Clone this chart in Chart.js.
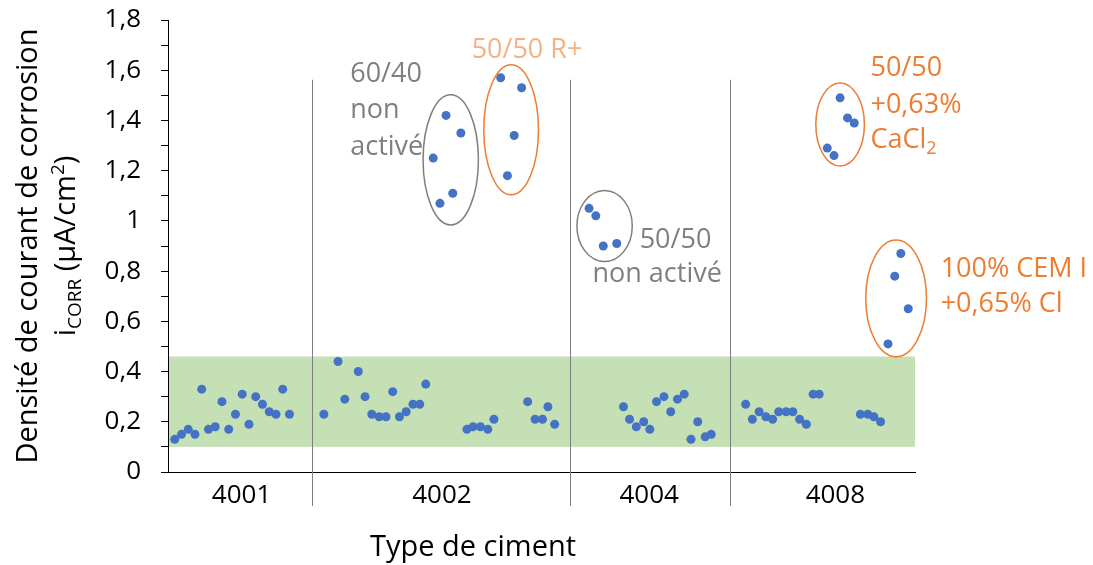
<!DOCTYPE html>
<html>
<head>
<meta charset="utf-8">
<script src="https://cdn.jsdelivr.net/npm/chart.js@4.4.1/dist/chart.umd.min.js"></script>
<style>
  html, body { margin: 0; padding: 0; background: #fff; }
  #wrap { width: 1093px; height: 565px; }
</style>
</head>
<body>
<div id="wrap"><canvas id="chart"></canvas></div>
<script>
// cement types, label centres and group limits along the sample axis
const cements = ['4001', '4002', '4004', '4008'];
const cementCentres = [10.9, 40.6, 71.3, 98.9];
const cementBounds = [21.3, 59.5, 83.3];

// sample position and icorr (µA/cm²) per cement
const pos4001 = [1, 2, 3, 4, 5, 6, 7, 8, 9, 10, 11, 12, 13, 14, 15, 16, 17, 18];
const icorr4001 = [0.13, 0.15, 0.17, 0.15, 0.33, 0.17, 0.18, 0.28, 0.17, 0.23, 0.31, 0.19, 0.30, 0.27, 0.24, 0.23, 0.33, 0.23];

const pos4002 = [23.1, 25.2, 26.2, 28.2, 29.2, 30.2, 31.3, 32.3, 33.3, 34.3, 35.3, 36.3, 37.3, 38.2, 39.3, 40.3, 41.2, 42.2, 43.4,
  44.3, 45.2, 46.3, 47.4, 48.3, 49.3, 50.3, 51.3, 52.4, 53.3, 54.4, 55.5, 56.3, 57.3];
const icorr4002 = [0.23, 0.44, 0.29, 0.40, 0.30, 0.23, 0.22, 0.22, 0.32, 0.22, 0.24, 0.27, 0.27, 0.35, 1.25, 1.07, 1.42, 1.11, 1.35,
  0.17, 0.18, 0.18, 0.17, 0.21, 1.57, 1.18, 1.34, 1.53, 0.28, 0.21, 0.21, 0.26, 0.19];

const pos4004 = [62.4, 63.4, 64.5, 66.5, 67.5, 68.4, 69.4, 70.5, 71.4, 72.4, 73.5, 74.5, 75.5, 76.5, 77.5, 78.5, 79.6, 80.5];
const icorr4004 = [1.05, 1.02, 0.90, 0.91, 0.26, 0.21, 0.18, 0.20, 0.17, 0.28, 0.30, 0.24, 0.29, 0.31, 0.13, 0.20, 0.14, 0.15];

const pos4008 = [85.6, 86.6, 87.6, 88.6, 89.6, 90.5, 91.6, 92.6, 93.6, 94.6, 95.6, 96.5, 97.7, 98.7, 99.6, 100.7, 101.7,
  102.6, 103.7, 104.6, 105.6, 106.7, 107.7, 108.6, 109.7];
const icorr4008 = [0.27, 0.21, 0.24, 0.22, 0.21, 0.24, 0.24, 0.24, 0.21, 0.19, 0.31, 0.31, 1.29, 1.26, 1.49, 1.41, 1.39,
  0.23, 0.23, 0.22, 0.20, 0.51, 0.78, 0.87, 0.65];

// passive zone (green band)
const passiveBand = [0.1, 0.46];

// rings round the special mixes, in axis units
const rings = [
  { x: [37.8, 46.0], y: [0.984, 1.502], color: '#7F7F7F' },
  { x: [46.8, 54.9], y: [1.104, 1.622], color: '#ED7D31' },
  { x: [60.6, 68.8], y: [0.838, 1.121], color: '#7F7F7F' },
  { x: [96.0, 103.2], y: [1.219, 1.549], color: '#ED7D31' },
  { x: [103.4, 112.4], y: [0.459, 0.924], color: '#ED7D31' }
];

// notes next to the rings
const notes = [
  { x: 27.0, y: [1.555, 1.409, 1.263], color: '#7F7F7F', lines: [[{ t: '60/40' }], [{ t: 'non' }], [{ t: 'activé' }]] },
  { x: 45.0, y: [1.648], color: '#F4B183', lines: [[{ t: '50/50 R+' }]] },
  { x: 69.9, y: [0.891], color: '#7F7F7F', lines: [[{ t: '50/50' }]] },
  { x: 62.9, y: [0.758], color: '#7F7F7F', lines: [[{ t: 'non activé' }]] },
  { x: 104.1, y: [1.578, 1.429, 1.290], color: '#ED7D31', lines: [[{ t: '50/50' }], [{ t: '+0,63%' }], [{ t: 'CaCl' }, { t: '2', sub: true }]] },
  { x: 114.5, y: [0.778, 0.639], color: '#ED7D31', lines: [[{ t: '100% CEM I' }], [{ t: '+0,65% Cl' }]] }
];

const FONT = '"Open Sans", "Noto Sans", sans-serif';

function toPoints(xs, ys) {
  return xs.map((x, i) => ({ x: x, y: ys[i] }));
}

const points = [
  ...toPoints(pos4001, icorr4001),
  ...toPoints(pos4002, icorr4002),
  ...toPoints(pos4004, icorr4004),
  ...toPoints(pos4008, icorr4008)
];

// text with sub/superscript pieces
function drawRich(ctx, parts, x, y, size, align) {
  const fontOf = p => ((p.sub || p.sup) ? Math.round(size * 0.65) : size) + 'px ' + FONT;
  let total = 0;
  parts.forEach(p => { ctx.font = fontOf(p); total += ctx.measureText(p.t).width; });
  let cx = align === 'center' ? x - total / 2 : x;
  ctx.textAlign = 'left';
  ctx.textBaseline = 'alphabetic';
  parts.forEach(p => {
    ctx.font = fontOf(p);
    let dy = 0;
    if (p.sub) dy = size * 0.22;
    if (p.sup) dy = -size * 0.38;
    ctx.fillText(p.t, cx, y + dy);
    cx += ctx.measureText(p.t).width;
  });
}

const decorations = {
  id: 'decorations',
  beforeDatasetsDraw(chart) {
    const { ctx, chartArea: a, scales: { x, y } } = chart;
    ctx.save();
    const top = y.getPixelForValue(passiveBand[1]);
    const bot = y.getPixelForValue(passiveBand[0]);
    ctx.fillStyle = '#C5E0B4';
    ctx.fillRect(a.left + 1, top, a.right - a.left - 1, bot - top);

    ctx.strokeStyle = '#7F7F7F';
    ctx.lineWidth = 1;
    cementBounds.forEach(b => {
      const px = Math.round(x.getPixelForValue(b)) + 0.5;
      ctx.beginPath();
      ctx.moveTo(px, y.getPixelForValue(1.562));
      ctx.lineTo(px, a.bottom + 34);
      ctx.stroke();
    });
    ctx.restore();
  },
  afterDatasetsDraw(chart) {
    const { ctx, scales: { x, y } } = chart;
    ctx.save();
    ctx.lineWidth = 1.5;
    rings.forEach(r => {
      const x0 = x.getPixelForValue(r.x[0]), x1 = x.getPixelForValue(r.x[1]);
      const y0 = y.getPixelForValue(r.y[1]), y1 = y.getPixelForValue(r.y[0]);
      ctx.strokeStyle = r.color;
      ctx.beginPath();
      ctx.ellipse((x0 + x1) / 2, (y0 + y1) / 2, (x1 - x0) / 2, (y1 - y0) / 2, 0, 0, Math.PI * 2);
      ctx.stroke();
    });
    notes.forEach(n => {
      ctx.fillStyle = n.color;
      n.lines.forEach((parts, i) => {
        drawRich(ctx, parts, x.getPixelForValue(n.x), y.getPixelForValue(n.y[i]), 27, 'left');
      });
    });
    ctx.restore();
  },
  afterDraw(chart) {
    const { ctx, chartArea: a } = chart;
    ctx.save();
    ctx.fillStyle = '#000';
    drawRich(ctx, [{ t: 'Type de ciment' }], 473, 556, 29, 'center');

    const midY = (a.top + a.bottom) / 2;
    ctx.translate(0, midY);
    ctx.rotate(-Math.PI / 2);
    drawRich(ctx, [{ t: 'Densité de courant de corrosion' }], 0, 37, 29, 'center');
    drawRich(ctx, [{ t: 'i' }, { t: 'CORR', sub: true }, { t: ' (µA/cm' }, { t: '2', sup: true }, { t: ')' }], 0, 75, 29, 'center');
    ctx.restore();
  }
};

new Chart(document.getElementById('chart'), {
  type: 'scatter',
  data: {
    datasets: [{
      data: points,
      backgroundColor: '#4472C4',
      borderWidth: 0,
      pointRadius: 4.5,
      pointHoverRadius: 4.5
    }]
  },
  options: {
    responsive: true,
    maintainAspectRatio: false,
    animation: false,
    layout: {
      padding: { top: 20, right: 178, left: 0, bottom: 0 }
    },
    scales: {
      x: {
        type: 'linear',
        min: 0,
        max: 110.7,
        afterFit: scale => { scale.height = 93; },
        afterBuildTicks: scale => { scale.ticks = cementCentres.map(v => ({ value: v })); },
        grid: { display: false, drawTicks: false },
        border: { color: '#000', width: 1 },
        ticks: {
          autoSkip: false,
          maxRotation: 0,
          padding: 8,
          color: '#000',
          font: { family: FONT, size: 26 },
          callback: (value, index) => cements[index]
        }
      },
      y: {
        min: 0,
        max: 1.8,
        afterFit: scale => {
          scale.width = 168;
          scale.paddingTop = 0;
          scale.paddingBottom = 0;
        },
        afterBuildTicks: scale => {
          scale.ticks = Array.from({ length: 19 }, (_, i) => ({ value: i / 10 }));
        },
        grid: { drawOnChartArea: false, drawTicks: true, tickLength: 7, color: '#000' },
        border: { color: '#000', width: 1 },
        ticks: {
          autoSkip: false,
          padding: 20,
          color: '#000',
          font: { family: FONT, size: 26 },
          callback: value => {
            const k = Math.round(value * 10);
            return k % 2 ? '' : String(k / 10).replace('.', ',');
          }
        }
      }
    },
    plugins: {
      legend: { display: false },
      tooltip: { enabled: false }
    }
  },
  plugins: [decorations]
});
</script>
</body>
</html>
